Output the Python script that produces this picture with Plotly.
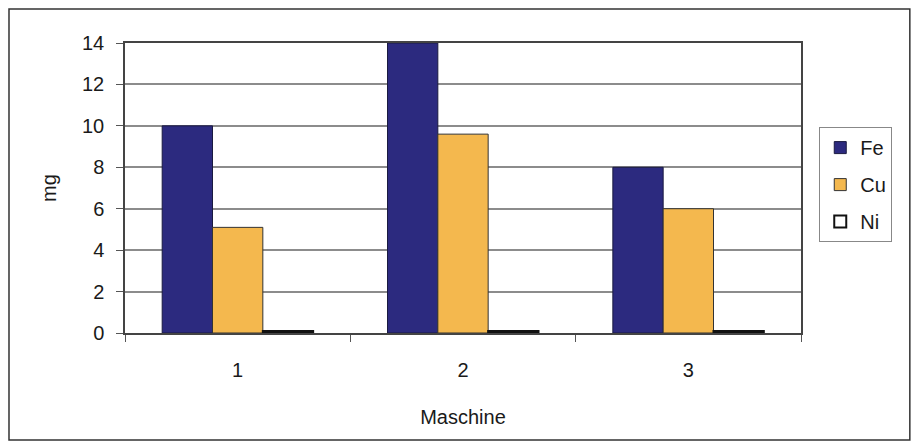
import plotly.graph_objects as go

categories = ["1", "2", "3"]
fe_values = [10.0, 14.0, 8.0]
cu_values = [5.1, 9.6, 6.0]
ni_values = [0.1, 0.1, 0.1]
y_ticks = [0, 2, 4, 6, 8, 10, 12, 14]

font_family = "Liberation Sans, Arial, sans-serif"

fig = go.Figure()
fig.add_trace(go.Bar(name="Fe", x=categories, y=fe_values, legendgroup="fe",
                     marker=dict(color="#2c2a7f", line=dict(color="#1a1a40", width=1))))
fig.add_trace(go.Bar(name="Cu", x=categories, y=cu_values, legendgroup="cu",
                     marker=dict(color="#f4b84e", line=dict(color="#333333", width=1))))
fig.add_trace(go.Bar(name="Ni", x=categories, y=ni_values, legendgroup="ni",
                     marker=dict(color="#ffffff", line=dict(color="#111111", width=2))))

fig.update_layout(
    width=912, height=440,
    margin=dict(l=117, r=119, t=35, b=115),
    paper_bgcolor="#ffffff",
    plot_bgcolor="#ffffff",
    barmode="group",
    bargap=0.33,
    bargroupgap=0,
    font=dict(family=font_family, size=20, color="#1a1a1a"),
    showlegend=True,
    legend=dict(
        x=1.027, y=0.71, xanchor="left", yanchor="top",
        bgcolor="#ffffff", bordercolor="#888888", borderwidth=1,
        font=dict(size=20, color="#1a1a1a"),
        itemwidth=30, tracegroupgap=8,
    ),
    xaxis=dict(
        type="category", range=[-0.5, 2.5],
        tickson="boundaries", ticks="outside", ticklen=7, tickcolor="#555555",
        showline=True, linecolor="#444444", linewidth=1.5, mirror=True,
        showgrid=False,
        ticklabelstandoff=18,
        title=dict(text="Maschine", font=dict(size=20), standoff=30),
        tickfont=dict(size=20),
    ),
    yaxis=dict(
        range=[0, 14], tickvals=y_ticks,
        ticks="outside", ticklen=7, tickcolor="#555555",
        showline=True, linecolor="#444444", linewidth=1.5, mirror=True,
        showgrid=True, gridcolor="#8c8c8c", gridwidth=1.5,
        zeroline=False,
        ticklabelstandoff=8,
        title=dict(text="mg", font=dict(size=20), standoff=20),
        tickfont=dict(size=20),
    ),
    shapes=[dict(
        type="rect", xref="paper", yref="paper",
        x0=-0.1716, x1=1.161, y0=-0.369, y1=1.117,
        line=dict(color="#333333", width=1.5), fillcolor="rgba(0,0,0,0)",
        layer="below",
    )],
)

fig.write_html("out.html")
